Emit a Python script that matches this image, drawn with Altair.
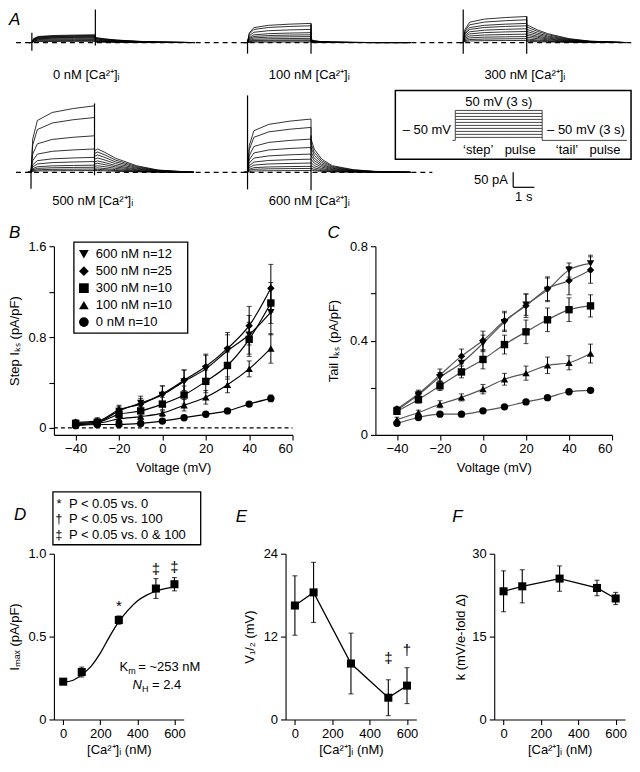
import altair as alt
import pandas as pd

FONT = "Liberation Sans"
FS = 13

# ================= Panel A : current traces =================
A_CONDS = ["0 nM", "100 nM", "300 nM", "500 nM", "600 nM"]
A_LABELS = ["0 nM [Ca²⁺]ᵢ", "100 nM [Ca²⁺]ᵢ", "300 nM [Ca²⁺]ᵢ", "500 nM [Ca²⁺]ᵢ", "600 nM [Ca²⁺]ᵢ"]
# current at the end of the 3 s step (pA), one value per test potential -40..50 mV
A_STEP_PA = [
    [4, 7, 10, 13, 16, 18, 20, 22, 24, 26],
    [2, 6, 9, 14, 20, 26, 33, 44, 56, 64],
    [7, 13, 20, 28, 37, 46, 56, 64, 76, 87],
    [6, 11, 17, 24, 36, 50, 78, 122, 183, 222],
    [6, 13, 20, 31, 44, 61, 83, 111, 150, 178],
]
# peak tail current (pA)
A_TAIL_PA = [
    [2, 3, 4, 6, 8, 10, 12, 14, 16, 17],
    [1, 2, 3, 4, 5, 6, 7, 8, 9, 10],
    [4, 8, 12, 18, 24, 30, 37, 44, 52, 59],
    [6, 10, 15, 22, 30, 38, 48, 58, 68, 78],
    [8, 14, 22, 32, 44, 56, 68, 82, 96, 111],
]
A_RISE_S = [0.0, 0.08, 0.3, 1.0, 2.0, 3.0]
A_RISE_FRAC = [0.0, 0.5, 0.78, 0.9, 0.96, 1.0]
A_TAIL_S = [0.0, 0.15, 0.5, 1.0, 2.0, 3.0, 4.7]
A_TAIL_FRAC = [
    [1.0, 0.9, 0.7, 0.5, 0.25, 0.1, 0.0],
    [1.0, 0.6, 0.3, 0.15, 0.05, 0.0, 0.0],
    [1.0, 0.92, 0.72, 0.5, 0.22, 0.08, 0.0],
    [0.92, 1.0, 0.85, 0.6, 0.28, 0.1, 0.0],
    [1.0, 0.7, 0.4, 0.2, 0.08, 0.03, 0.0],
]
A_SPIKE_ON = [(-27, 33), (-37, 10), (-37, 110), (-55, 10), (-57, 257)]
A_SPIKE_OFF = [(-10, 110), (-37, 64), (-37, 87), (-10, 230), (-60, 123)]

# voltage protocol (inset)
P_STEPS_MV = [-40, -30, -20, -10, 0, 10, 20, 30, 40, 50]
P_HOLD_MV = -50
P_STEP_DUR_S = 3
P_TAIL_END_S = 5.93
P_BOX = (-2.07, 6.07, -113.3, 116.7)
P_TEXTS = ["50 mV (3 s)", "– 50 mV", "– 50 mV (3 s)", "‘step’", "pulse", "‘tail’", "pulse"]
P_TEXT_T = [1.5, -0.15, 3.17, 0.79, 2.24, 3.86, 5.17]
P_TEXT_MV = [76.7, -16.7, -16.7, -83.3, -83.3, -83.3, -83.3]
P_TEXT_ALIGN = ["center", "right", "left", "center", "center", "center", "center"]

# ---- layout of panel A (page x = 8 + t * 21.2 px/s; 50 pA = 15 px) ----
A_PX_PER_S = 21.2
A_PX_PER_PA = 0.3
A_LEFT_PX, A_RIGHT_PX = 45, 624          # plot area, measured from the left page margin
A_H = 189
A_ONSET_S = [1.08, 11.27, 21.46, 1.04, 11.27]
A_BASE_PA = [523.3, 523.3, 523.3, 90, 90]
A_LABEL_DPA = [-107, -107, -107, -95, -95]
A_DASH = [(0.33, 29.4, 523.3), (0.33, 20.0, 90)]
P_PX_PER_S = 29.0
P_PX_PER_MV = 0.3
P_ORIGIN_PX = (447, 130)

# ================= Panels B / C =================
V = [-40, -30, -20, -10, 0, 10, 20, 30, 40, 50]
SERIES = ["600 nM n=12", "500 nM n=25", "300 nM n=10", "100 nM n=10", "0 nM n=10"]
SHAPES = ["triangle-down", "diamond", "square", "triangle-up", "circle"]
STEP = [
    [0.04, 0.05, 0.15, 0.22, 0.29, 0.41, 0.52, 0.68, 0.82, 1.02],
    [0.05, 0.06, 0.16, 0.21, 0.30, 0.42, 0.54, 0.70, 0.90, 1.23],
    [0.04, 0.05, 0.12, 0.15, 0.21, 0.29, 0.41, 0.55, 0.78, 1.10],
    [0.03, 0.04, 0.08, 0.10, 0.13, 0.20, 0.27, 0.38, 0.52, 0.70],
    [0.02, 0.03, 0.03, 0.04, 0.06, 0.09, 0.12, 0.15, 0.21, 0.26],
]
STEP_ERR = [
    [0.02, 0.03, 0.04, 0.06, 0.08, 0.10, 0.12, 0.14, 0.17, 0.20],
    [0.02, 0.03, 0.04, 0.05, 0.07, 0.09, 0.11, 0.14, 0.17, 0.21],
    [0.02, 0.02, 0.03, 0.04, 0.06, 0.08, 0.10, 0.12, 0.15, 0.18],
    [0.01, 0.02, 0.02, 0.03, 0.03, 0.05, 0.06, 0.07, 0.07, 0.13],
    [0.01, 0.01, 0.01, 0.01, 0.01, 0.01, 0.01, 0.02, 0.02, 0.03],
]
TAIL = [
    [0.105, 0.170, 0.245, 0.305, 0.388, 0.478, 0.552, 0.615, 0.699, 0.727],
    [0.110, 0.175, 0.254, 0.334, 0.400, 0.484, 0.548, 0.620, 0.654, 0.699],
    [0.100, 0.150, 0.208, 0.267, 0.320, 0.383, 0.437, 0.488, 0.531, 0.547],
    [0.065, 0.095, 0.130, 0.159, 0.194, 0.236, 0.262, 0.295, 0.306, 0.345],
    [0.049, 0.074, 0.088, 0.088, 0.102, 0.119, 0.140, 0.158, 0.183, 0.189],
]
TAIL_ERR = [
    [0.010, 0.015, 0.020, 0.030, 0.035, 0.040, 0.045, 0.050, 0.030, 0.035],
    [0.010, 0.015, 0.025, 0.030, 0.040, 0.040, 0.050, 0.050, 0.060, 0.056],
    [0.010, 0.015, 0.020, 0.025, 0.040, 0.040, 0.050, 0.050, 0.050, 0.047],
    [0.010, 0.010, 0.015, 0.015, 0.020, 0.025, 0.030, 0.035, 0.030, 0.040],
    [0.005, 0.005, 0.005, 0.005, 0.005, 0.005, 0.005, 0.005, 0.005, 0.005],
]

# ================= Panels D / E / F =================
CA = [0, 100, 300, 500, 600]
IMAX = [0.228, 0.286, 0.60, 0.79, 0.816]
IMAX_ERR = [0.012, 0.03, 0.025, 0.06, 0.04]
FIT_CA = [0, 50, 100, 150, 200, 250, 300, 350, 400, 450, 500, 550, 600]
FIT_IMAX = [0.225, 0.235, 0.27, 0.32, 0.40, 0.50, 0.59, 0.66, 0.715, 0.75, 0.775, 0.79, 0.80]
D_SIG = ["*", "‡", "‡"]
D_SIG_CA = [300, 500, 600]
D_SIG_Y = [0.685, 0.905, 0.92]
D_LEG_SYM = ["*", "†", "‡"]
D_LEG_TXT = ["P < 0.05 vs. 0", "P < 0.05 vs. 100", "P < 0.05 vs. 0 & 100"]
VHALF = [16.5, 18.4, 8.1, 3.15, 4.9]
VHALF_ERR = [4.3, 4.35, 4.4, 2.6, 2.6]
E_SIG = ["‡", "†"]
E_SIG_CA = [500, 600]
E_SIG_Y = [8.9, 10.1]
KSLOPE = [23.2, 24.1, 25.5, 23.8, 21.9]
KSLOPE_ERR = [3.7, 3.0, 2.3, 1.4, 1.1]

DEF_H = 166


def one(**kw):
    return pd.DataFrame([kw])


def p2a(t, mv):
    """protocol (s, mV) -> panel A plotting units (s, pA)"""
    px = P_ORIGIN_PX[0] + t * P_PX_PER_S
    py_from_top = P_ORIGIN_PX[1] - (mv - P_HOLD_MV) * P_PX_PER_MV
    return px / A_PX_PER_S, (A_H - py_from_top) / A_PX_PER_PA


def S(domain):
    return alt.Scale(domain=domain, nice=False, zero=False)


def label(txt, x, y, size=FS, align="left", style="normal"):
    """free text placed in pixels relative to a panel's plot origin"""
    return alt.Chart(one(t=txt)).mark_text(
        fontSize=size, fontStyle=style, align=align, baseline="middle", color="black"
    ).encode(x=alt.value(x), y=alt.value(y), text="t:N")


def letter(ch, x, y):
    return label(ch, x, y, size=17, style="italic")


def caps(base, xf, lo, hi, w=1):
    return [base.mark_tick(color="black", orient="horizontal", size=5, thickness=w).encode(x=f"{xf}:Q", y=f"{hi}:Q"),
            base.mark_tick(color="black", orient="horizontal", size=5, thickness=w).encode(x=f"{xf}:Q", y=f"{lo}:Q")]


# ---------------- Panel A ----------------
tr_rows, spikes, labels = [], [], []
for ci, cond in enumerate(A_CONDS):
    t0, base = A_ONSET_S[ci], A_BASE_PA[ci]
    for k in range(len(A_STEP_PA[ci])):
        lev, tail = A_STEP_PA[ci][k], A_TAIL_PA[ci][k]
        tid = f"{cond}-{k}"
        pts = [(t0 - 0.15, base)]
        pts += [(t0 + ts, base + lev * fr) for ts, fr in zip(A_RISE_S, A_RISE_FRAC)]
        pts += [(t0 + P_STEP_DUR_S + ts, base + tail * fr) for ts, fr in zip(A_TAIL_S, A_TAIL_FRAC[ci])]
        for o, (t, pa) in enumerate(pts):
            tr_rows.append(dict(tid=tid, o=o, t=t, pa=pa))
    lo, hi = A_SPIKE_ON[ci]
    spikes.append(dict(t=t0, lo=base + lo, hi=base + hi))
    lo, hi = A_SPIKE_OFF[ci]
    spikes.append(dict(t=t0 + P_STEP_DUR_S, lo=base + lo, hi=base + hi))
    labels.append(dict(t=t0 + 1.0, pa=base + A_LABEL_DPA[ci], txt=A_LABELS[ci]))

# the trace layer (with axes switched off) must come first in the layer
traces = alt.Chart(pd.DataFrame(tr_rows)).mark_line(color="black", strokeWidth=0.8).encode(
    x=alt.X("t:Q", scale=S([A_LEFT_PX / A_PX_PER_S, A_RIGHT_PX / A_PX_PER_S]), axis=None),
    y=alt.Y("pa:Q", scale=S([0, A_H / A_PX_PER_PA]), axis=None),
    detail="tid:N", order="o:Q")
spk = alt.Chart(pd.DataFrame(spikes)).mark_rule(color="black", strokeWidth=1.2).encode(
    x="t:Q", y="lo:Q", y2="hi:Q")
dash = alt.Chart(pd.DataFrame([dict(a=a, b=b, y=y) for a, b, y in A_DASH])).mark_rule(
    color="black", strokeWidth=1.3, strokeDash=[5, 4]).encode(x="a:Q", x2="b:Q", y="y:Q")
alab = alt.Chart(pd.DataFrame(labels)).mark_text(align="left", baseline="middle", fontSize=FS,
                                                 color="black").encode(x="t:Q", y="pa:Q", text="txt:N")
sb_t, sb_pa = (513 - 8) / A_PX_PER_S, (A_H - 177) / A_PX_PER_PA
sbar_v = alt.Chart(one(t=sb_t, a=sb_pa, b=sb_pa + 50)).mark_rule(color="black", strokeWidth=1.2).encode(
    x="t:Q", y="a:Q", y2="b:Q")
sbar_h = alt.Chart(one(a=sb_t, b=sb_t + 1, y=sb_pa)).mark_rule(color="black", strokeWidth=1.2).encode(
    x="a:Q", x2="b:Q", y="y:Q")
sbar_t1 = alt.Chart(one(t=sb_t - 0.25, pa=sb_pa + 25, txt="50 pA")).mark_text(
    baseline="middle", align="right", fontSize=FS, color="black").encode(x="t:Q", y="pa:Q", text="txt:N")
sbar_t2 = alt.Chart(one(t=sb_t + 0.5, pa=sb_pa - 33, txt="1 s")).mark_text(
    baseline="middle", align="center", fontSize=FS, color="black").encode(x="t:Q", y="pa:Q", text="txt:N")

prot_h = []
for mv in P_STEPS_MV:
    (a, y), (b, _) = p2a(0, mv), p2a(P_STEP_DUR_S, mv)
    prot_h.append(dict(a=a, b=b, y=y))
for t1, t2 in [(-0.1, 0), (P_STEP_DUR_S, P_TAIL_END_S)]:
    (a, y), (b, _) = p2a(t1, P_HOLD_MV), p2a(t2, P_HOLD_MV)
    prot_h.append(dict(a=a, b=b, y=y))
prot_v = []
for t in [0, P_STEP_DUR_S]:
    (x, lo), (_, hi) = p2a(t, P_HOLD_MV), p2a(t, max(P_STEPS_MV))
    prot_v.append(dict(t=x, lo=lo, hi=hi))
ph = alt.Chart(pd.DataFrame(prot_h)).mark_rule(color="#333", strokeWidth=0.9).encode(x="a:Q", x2="b:Q", y="y:Q")
pv = alt.Chart(pd.DataFrame(prot_v)).mark_rule(color="#333", strokeWidth=0.9).encode(x="t:Q", y="lo:Q", y2="hi:Q")
(bx1, by1), (bx2, by2) = p2a(P_BOX[0], P_BOX[2]), p2a(P_BOX[1], P_BOX[3])
pbox = alt.Chart(one(a=bx1, b=bx2, c=by1, d=by2)).mark_rect(
    fillOpacity=0, stroke="black", strokeWidth=1.5).encode(x="a:Q", x2="b:Q", y="c:Q", y2="d:Q")
ptxt = []
for txt, t, mv, al in zip(P_TEXTS, P_TEXT_T, P_TEXT_MV, P_TEXT_ALIGN):
    x, y = p2a(t, mv)
    ptxt.append(alt.Chart(one(t=x, pa=y, txt=txt)).mark_text(
        align=al, baseline="middle", fontSize=FS, color="black").encode(x="t:Q", y="pa:Q", text="txt:N"))

panel_a = alt.layer(traces, dash, spk, alab, sbar_v, sbar_h, sbar_t1, sbar_t2, pbox, ph, pv, *ptxt,
                    letter("A", -45, 9)).properties(width=A_RIGHT_PX - A_LEFT_PX, height=A_H)

# ---------------- Panels B and C ----------------
rows = []
for s, name in enumerate(SERIES):
    for i, v in enumerate(V):
        rows.append(dict(series=name, V=v,
                         step=STEP[s][i], s_lo=STEP[s][i] - STEP_ERR[s][i], s_hi=STEP[s][i] + STEP_ERR[s][i],
                         tail=TAIL[s][i], t_lo=TAIL[s][i] - TAIL_ERR[s][i], t_hi=TAIL[s][i] + TAIL_ERR[s][i]))
bc = pd.DataFrame(rows)


def v_axis():
    return alt.Axis(title="Voltage (mV)", values=list(range(-40, 61, 10)),
                    labelExpr="datum.value % 20 == 0 ? datum.label : ''", titlePadding=6)


def iv_panel(col, lo, hi, ydom, yaxis, line_color):
    base = alt.Chart(bc)
    lines = base.mark_line(color=line_color, strokeWidth=1.2, interpolate="monotone").encode(
        x=alt.X("V:Q", scale=S([-50, 60]), axis=v_axis()),
        y=alt.Y(f"{col}:Q", scale=S(ydom), axis=yaxis), detail="series:N")
    err = base.mark_rule(color="black", strokeWidth=1).encode(x="V:Q", y=f"{lo}:Q", y2=f"{hi}:Q")
    layers = [lines, err, *caps(base, "V", lo, hi)]
    for name, shp in zip(SERIES, SHAPES):
        layers.append(base.transform_filter(alt.datum.series == name).mark_point(
            shape=shp, filled=True, color="black", opacity=1, size=55).encode(x="V:Q", y=f"{col}:Q"))
    return layers


# key of panel B (pixels relative to the plot origin)
b_key = [alt.Chart(one(t="")).mark_rect(fill="white", stroke="black", strokeWidth=1.3).encode(
    x=alt.value(20), x2=alt.value(134), y=alt.value(-4), y2=alt.value(87))]
for i, (name, shp) in enumerate(zip(SERIES, SHAPES)):
    yy = 8 + i * 17
    b_key.append(alt.Chart(one(t="")).mark_point(shape=shp, filled=True, color="black", opacity=1, size=95).encode(
        x=alt.value(30), y=alt.value(yy)))
    b_key.append(label(name, 42, yy))

b_yaxis = alt.Axis(title="Step Iₖₛ (pA/pF)", values=[0, 0.4, 0.8, 1.2, 1.6], titlePadding=6,
                   labelExpr="datum.value % 0.8 == 0 ? (datum.value == 0 ? '0' : format(datum.value, '.1f')) : ''")
b_zero = alt.Chart(one(a=-50, b=60, y=0)).mark_rule(color="black", strokeWidth=1.2, strokeDash=[4, 3]).encode(
    x="a:Q", x2="b:Q", y="y:Q")
panel_b = alt.layer(*iv_panel("step", "s_lo", "s_hi", [-0.0615, 1.6], b_yaxis, "black"), b_zero,
                    *b_key, letter("B", -45, -13)).properties(width=239, height=189)

c_yaxis = alt.Axis(title="Tail Iₖₛ (pA/pF)", values=[0, 0.2, 0.4, 0.6, 0.8], titlePadding=9,
                   labelExpr="datum.value % 0.4 == 0 ? (datum.value == 0 ? '0' : format(datum.value, '.1f')) : ''")
panel_c = alt.layer(*iv_panel("tail", "t_lo", "t_hi", [0, 0.8], c_yaxis, "#555"),
                    letter("C", -48, -13)).properties(width=237, height=189)

# ---------------- Panels D, E, F ----------------
def_df = pd.DataFrame(dict(ca=CA, imax=IMAX, i_lo=[a - b for a, b in zip(IMAX, IMAX_ERR)],
                           i_hi=[a + b for a, b in zip(IMAX, IMAX_ERR)],
                           vh=VHALF, v_lo=[a - b for a, b in zip(VHALF, VHALF_ERR)],
                           v_hi=[a + b for a, b in zip(VHALF, VHALF_ERR)],
                           k=KSLOPE, k_lo=[a - b for a, b in zip(KSLOPE, KSLOPE_ERR)],
                           k_hi=[a + b for a, b in zip(KSLOPE, KSLOPE_ERR)]))


def ca_axis():
    return alt.Axis(title="[Ca²⁺]ᵢ (nM)", values=[0, 200, 400, 600], titlePadding=3)


def conc_points(col, lo, hi):
    base = alt.Chart(def_df)
    err = base.mark_rule(color="black", strokeWidth=1.1).encode(x="ca:Q", y=f"{lo}:Q", y2=f"{hi}:Q")
    pts = base.mark_point(shape="square", filled=True, color="black", opacity=1, size=65).encode(
        x="ca:Q", y=f"{col}:Q")
    return [err, *caps(base, "ca", lo, hi, 1.1), pts]


def ann(txt, ca, y, align="left", size=FS, dx=0, dy=0, style="normal"):
    return alt.Chart(one(ca=ca, y=y, s=txt)).mark_text(
        align=align, baseline="middle", fontSize=size, dx=dx, dy=dy, fontStyle=style, color="black").encode(
        x="ca:Q", y="y:Q", text="s:N")


d_fit = alt.Chart(pd.DataFrame(dict(ca=FIT_CA, y=FIT_IMAX))).mark_line(
    color="black", strokeWidth=1.3, interpolate="monotone").encode(
    x=alt.X("ca:Q", scale=S([-50, 650]), axis=ca_axis()),
    y=alt.Y("y:Q", scale=S([0, 1]),
            axis=alt.Axis(title="Iₘₐₓ (pA/pF)", values=[0, 0.5, 1.0], titlePadding=6,
                          labelExpr="datum.value == 0 ? '0' : format(datum.value, '.1f')")))
d_sig = alt.Chart(pd.DataFrame(dict(ca=D_SIG_CA, y=D_SIG_Y, s=D_SIG))).mark_text(
    fontSize=15, baseline="middle", color="black").encode(x="ca:Q", y="y:Q", text="s:N")
d_km = [ann("K", 351, 0.318, align="right"), ann("m", 351, 0.318, size=9, dy=4),
        ann("= ~253 nM", 351, 0.318, dx=10),
        ann("N", 425, 0.206, align="right", style="italic"), ann("H", 425, 0.206, size=9, dy=4),
        ann("= 2.4", 425, 0.206, dx=10)]
# significance key above panel D (pixels relative to the plot origin)
d_keys = [alt.Chart(one(t="")).mark_rect(fillOpacity=0, stroke="black", strokeWidth=1.3).encode(
    x=alt.value(-1), x2=alt.value(147), y=alt.value(-62), y2=alt.value(-9))]
for sym, txt, py in zip(D_LEG_SYM, D_LEG_TXT, [-50, -34.5, -19]):
    d_keys.append(label(sym, 5, py, align="center"))
    d_keys.append(label(txt, 15, py))
panel_d = alt.layer(d_fit, *conc_points("imax", "i_lo", "i_hi"), d_sig, *d_km, *d_keys,
                    letter("D", -40, -39)).properties(width=130, height=DEF_H)

e_line = alt.Chart(def_df).mark_line(color="black", strokeWidth=1.3).encode(
    x=alt.X("ca:Q", scale=S([-50, 650]), axis=ca_axis()),
    y=alt.Y("vh:Q", scale=S([0, 24]), axis=alt.Axis(title="V₁/₂ (mV)", values=[0, 12, 24], titlePadding=7)))
e_sig = alt.Chart(pd.DataFrame(dict(ca=E_SIG_CA, y=E_SIG_Y, s=E_SIG))).mark_text(
    fontSize=15, baseline="middle", color="black").encode(x="ca:Q", y="y:Q", text="s:N")
panel_e = alt.layer(e_line, *conc_points("vh", "v_lo", "v_hi"), e_sig,
                    letter("E", -50, -37)).properties(width=131, height=DEF_H)

f_line = alt.Chart(def_df).mark_line(color="black", strokeWidth=1.3).encode(
    x=alt.X("ca:Q", scale=S([-50, 650]), axis=ca_axis()),
    y=alt.Y("k:Q", scale=S([0, 30]), axis=alt.Axis(title="k (mV/e-fold Δ)", values=[0, 15, 30], titlePadding=4)))
panel_f = alt.layer(f_line, *conc_points("k", "k_lo", "k_hi"),
                    letter("F", -42, -37)).properties(width=131, height=DEF_H)

row_bc = alt.hconcat(panel_b, panel_c, spacing=33)
row_def = alt.hconcat(panel_d, panel_e, panel_f, spacing=34)

chart = alt.vconcat(panel_a, row_bc, row_def, spacing=16).properties(
    padding=0
).configure_view(stroke=None).configure_axis(
    domainColor="black", tickColor="black", labelColor="black", titleColor="black",
    labelFont=FONT, titleFont=FONT, labelFontSize=FS, titleFontSize=FS, titleFontWeight="normal",
    tickSize=5, labelPadding=3, domainWidth=1.1, tickWidth=1.1, grid=False
).configure_text(font=FONT, color="black")

chart.save("out.html", embed_options={"renderer": "svg", "actions": False})
